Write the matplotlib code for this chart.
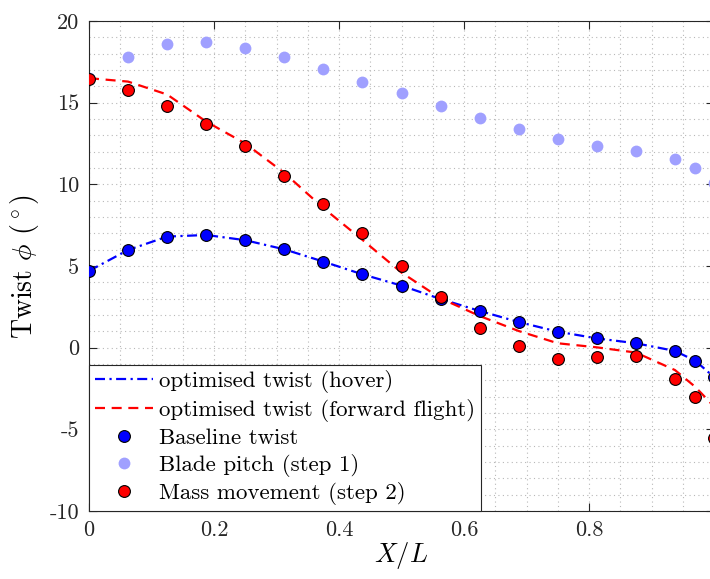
import matplotlib
matplotlib.use("Agg")
import matplotlib.pyplot as plt
from matplotlib.ticker import MultipleLocator

plt.rcParams['font.family'] = ['cmr10', 'DejaVu Serif']
plt.rcParams['mathtext.fontset'] = 'cm'
plt.rcParams['axes.unicode_minus'] = False
plt.rcParams['axes.formatter.use_mathtext'] = False

# --- data ---
x_pos = [0, 0.0625, 0.125, 0.1875, 0.25, 0.3125, 0.375, 0.4375, 0.5, 0.5625,
         0.625, 0.6875, 0.75, 0.8125, 0.875, 0.9375, 0.97, 1.0]
hover_curve = [4.7, 5.98, 6.8, 6.9, 6.58, 6.02, 5.27, 4.49, 3.8, 2.98,
               2.25, 1.57, 0.98, 0.57, 0.27, -0.2, -0.8, -1.8]
forward_curve = [16.5, 16.29, 15.5, 13.84, 12.5, 10.7, 8.55, 6.6, 4.6, 3.02,
                 1.94, 1.02, 0.27, 0.02, -0.3, -1.37, -2.4, -3.6]
baseline_twist = [4.7, 5.98, 6.8, 6.9, 6.58, 6.02, 5.27, 4.49, 3.8, 2.98,
                  2.25, 1.57, 0.98, 0.57, 0.27, -0.2, -0.8, -1.8]
blade_pitch = [16.5, 17.78, 18.58, 18.74, 18.37, 17.82, 17.08, 16.29, 15.57, 14.8,
               14.05, 13.37, 12.78, 12.37, 12.06, 11.57, 10.99, 10.1]
mass_movement = [16.47, 15.8, 14.78, 13.72, 12.37, 10.53, 8.8, 7.0, 4.98, 3.09,
                 1.22, 0.08, -0.71, -0.59, -0.51, -1.92, -3.0, -5.5]

labels = ['optimised twist (hover)', 'optimised twist (forward flight)',
          'Baseline twist', 'Blade pitch (step 1)', 'Mass movement (step 2)']
x_ticks = [0, 0.2, 0.4, 0.6, 0.8, 1.0]
x_tick_labels = ['0', '0.2', '0.4', '0.6', '0.8', '']  # '1' falls outside the image
y_ticks = [-10, -5, 0, 5, 10, 15, 20]

W, H = 710, 579
fig = plt.figure(figsize=(W / 100, H / 100), dpi=100)
ax = fig.add_axes([89 / W, 68 / H, 625 / W, 490 / H])

ax.plot(x_pos, hover_curve, color='#0000ff', lw=1.6, ls=(0, (4.5, 2, 1, 2)),
        label=labels[0], zorder=3)
ax.plot(x_pos, forward_curve, color='#ff0000', lw=1.6, ls=(0, (4.5, 3)),
        label=labels[1], zorder=3)
ax.plot(x_pos, baseline_twist, 'o', ms=8.5, mfc='#0000ff', mec='black', mew=0.8,
        label=labels[2], zorder=5)
ax.plot(x_pos, blade_pitch, 'o', ms=8.5, mfc='#a0a0ff', mec='none',
        label=labels[3], zorder=2)
ax.plot(x_pos, mass_movement, 'o', ms=8.5, mfc='#ff0000', mec='black', mew=0.8,
        label=labels[4], zorder=6)

ax.set_xlim(0, 1)
ax.set_ylim(-10, 20)
ax.set_xticks(x_ticks)
ax.set_xticklabels(x_tick_labels)
ax.set_yticks(y_ticks)
ax.set_yticklabels([str(v) for v in y_ticks])
ax.xaxis.set_minor_locator(MultipleLocator(0.05))
ax.yaxis.set_minor_locator(MultipleLocator(1))
ax.grid(True, which='both', ls=(0, (1, 3)), color='#b8b8b8', lw=0.8)
ax.set_axisbelow(True)
ax.tick_params(which='major', direction='in', top=True, right=True, length=6,
               width=0.8, colors='#262626', labelsize=16, pad=7)
ax.tick_params(which='minor', length=0)
for s in ax.spines.values():
    s.set_color('#262626')
    s.set_linewidth(0.8)

ax.set_xlabel(r'$X/L$', fontsize=19, labelpad=0)
ax.set_ylabel(r'Twist $\phi$ $(^\circ)$', fontsize=20, labelpad=6)

leg = ax.legend(loc='lower left', bbox_to_anchor=(0, 0), borderaxespad=0,
                fontsize=16.5, fancybox=False, framealpha=1, edgecolor='#262626',
                handlelength=2.55, handletextpad=0.25, borderpad=0.25,
                labelspacing=0.25)
leg.get_frame().set_linewidth(0.8)
leg.set_zorder(10)

fig.savefig('out.png', dpi=100)
